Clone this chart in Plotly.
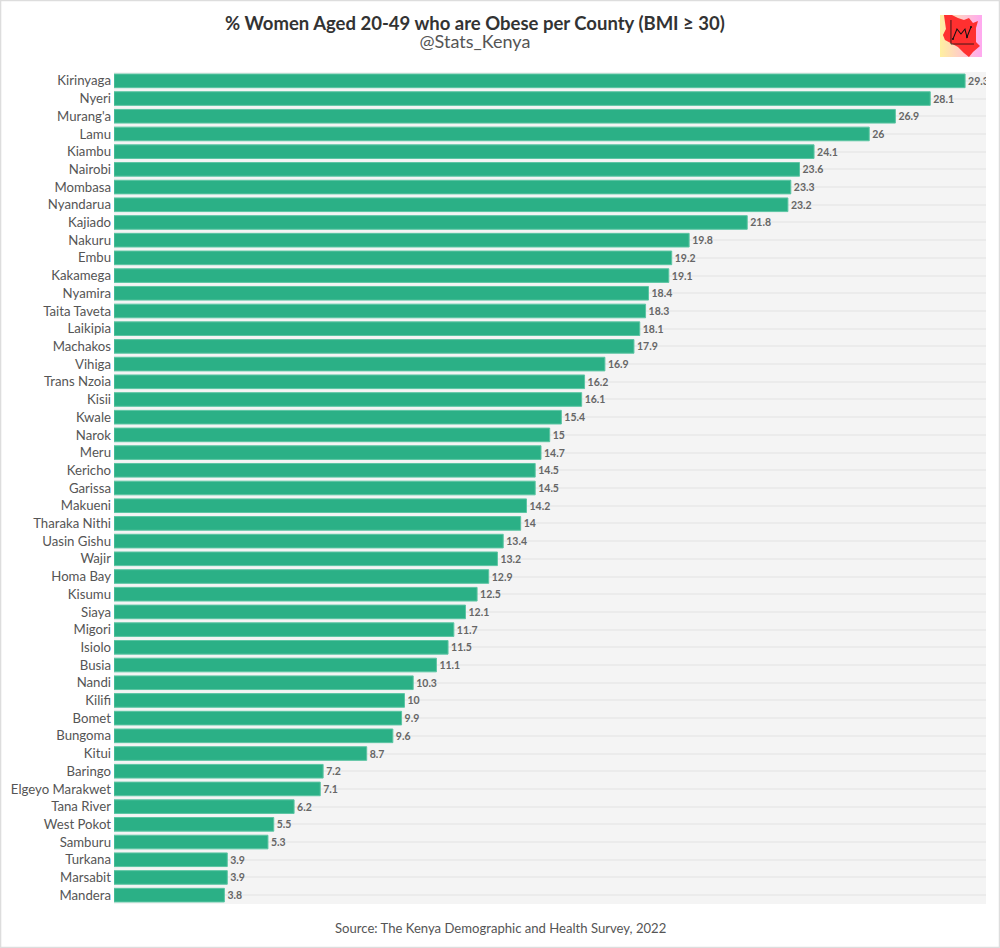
import base64
import plotly.graph_objects as go

counties = ["Kirinyaga", "Nyeri", "Murang'a", "Lamu", "Kiambu", "Nairobi", "Mombasa", "Nyandarua", "Kajiado",
            "Nakuru", "Embu", "Kakamega", "Nyamira", "Taita Taveta", "Laikipia", "Machakos", "Vihiga", "Trans Nzoia",
            "Kisii", "Kwale", "Narok", "Meru", "Kericho", "Garissa", "Makueni", "Tharaka Nithi", "Uasin Gishu", "Wajir",
            "Homa Bay", "Kisumu", "Siaya", "Migori", "Isiolo", "Busia", "Nandi", "Kilifi", "Bomet", "Bungoma", "Kitui",
            "Baringo", "Elgeyo Marakwet", "Tana River", "West Pokot", "Samburu", "Turkana", "Marsabit", "Mandera"]
obese = [29.3, 28.1, 26.9, 26, 24.1, 23.6, 23.3, 23.2, 21.8, 19.8, 19.2, 19.1, 18.4, 18.3, 18.1, 17.9, 16.9, 16.2,
         16.1, 15.4, 15, 14.7, 14.5, 14.5, 14.2, 14, 13.4, 13.2, 12.9, 12.5, 12.1, 11.7, 11.5, 11.1, 10.3, 10, 9.9,
         9.6, 8.7, 7.2, 7.1, 6.2, 5.5, 5.3, 3.9, 3.9, 3.8]

FONT = "Lato"

# small Kenya logo
logo_svg = """<svg xmlns='http://www.w3.org/2000/svg' viewBox='0 0 42 42'>
<defs><linearGradient id='g'><stop offset='0' stop-color='#fff0a0'/><stop offset='1' stop-color='#ffa8f0'/></linearGradient></defs>
<rect width='42' height='42' fill='url(#g)'/>
<path d='M4 0L12 0L18 3L24 5L29 3L33 8L38 6L36 13L36 27L40 31L33 37L29 42L24 38L18 32L5 25L3 20L6 14Z' fill='#ff3030'/>
<path d='M11 5V29H34' fill='none' stroke='#111' stroke-width='0.8'/>
<path d='M13 24L17 14L21 19L25 14L27 22L31 12' fill='none' stroke='#111' stroke-width='1'/>
<circle cx='13' cy='24' r='1' fill='#111'/><circle cx='27' cy='22' r='1' fill='#111'/><circle cx='31' cy='12' r='1' fill='#111'/>
</svg>"""
logo_uri = "data:image/svg+xml;base64," + base64.b64encode(logo_svg.encode()).decode()

fig = go.Figure()
fig.add_trace(go.Bar(
    x=obese, y=counties, orientation="h",
    marker=dict(color="#2bb086", line=dict(color="#5cc5a3", width=1)),
    text=obese, textposition="outside", cliponaxis=True,
    textfont=dict(family=FONT, size=10.5, color="#666666", weight="bold"),
))

fig.update_layout(
    width=1000, height=948,
    margin=dict(l=114, r=14, t=72, b=44),
    paper_bgcolor="white", plot_bgcolor="#f4f4f4",
    bargap=0.23, showlegend=False,
    font=dict(family=FONT, color="#555555", size=13),
    xaxis=dict(range=[0, 30.02], visible=False, automargin=False),
    yaxis=dict(autorange="reversed", automargin=False, showgrid=True, gridcolor="#ebebeb", gridwidth=1.5,
               tickmode="linear", dtick=1, ticks="", showline=False, zeroline=False, ticklabelstandoff=2,
               tickfont=dict(size=13.2, color="#555555")),
    images=[dict(source=logo_uri, xref="paper", yref="paper", x=0.9954, y=1.018, xanchor="right", yanchor="bottom",
                 sizex=0.0482, sizey=0.0505, sizing="stretch", layer="above")],
)
title_text = ("<span style='font-size:18.5px;color:#333333'><b>% Women Aged 20-49 who are Obese per County (BMI ≥ 30)</b></span>"
              "<br><span style='font-size:18px;color:#555555'>@Stats_Kenya</span>")
fig.add_annotation(text=title_text, xref="paper", yref="paper",
                   x=0.414, y=1.0, yshift=40, xanchor="center", yanchor="middle", showarrow=False,
                   font=dict(size=14, color="#555555"))
fig.add_annotation(text="Source: The Kenya Demographic and Health Survey, 2022", xref="paper", yref="paper",
                   x=0.4427, y=0, yshift=-24, xanchor="center", yanchor="middle", showarrow=False,
                   font=dict(size=13.1, color="#555555"))
# outer border of the picture
fig.add_shape(type="rect", xref="paper", yref="paper", x0=-0.1301, x1=1.0155, y0=-0.0523, y1=1.0859,
              line=dict(color="#dddddd", width=1.5), fillcolor="rgba(0,0,0,0)", layer="below")

fig.write_html("out.html", post_script="document.body.style.margin='0';", config=dict(displayModeBar=False))
